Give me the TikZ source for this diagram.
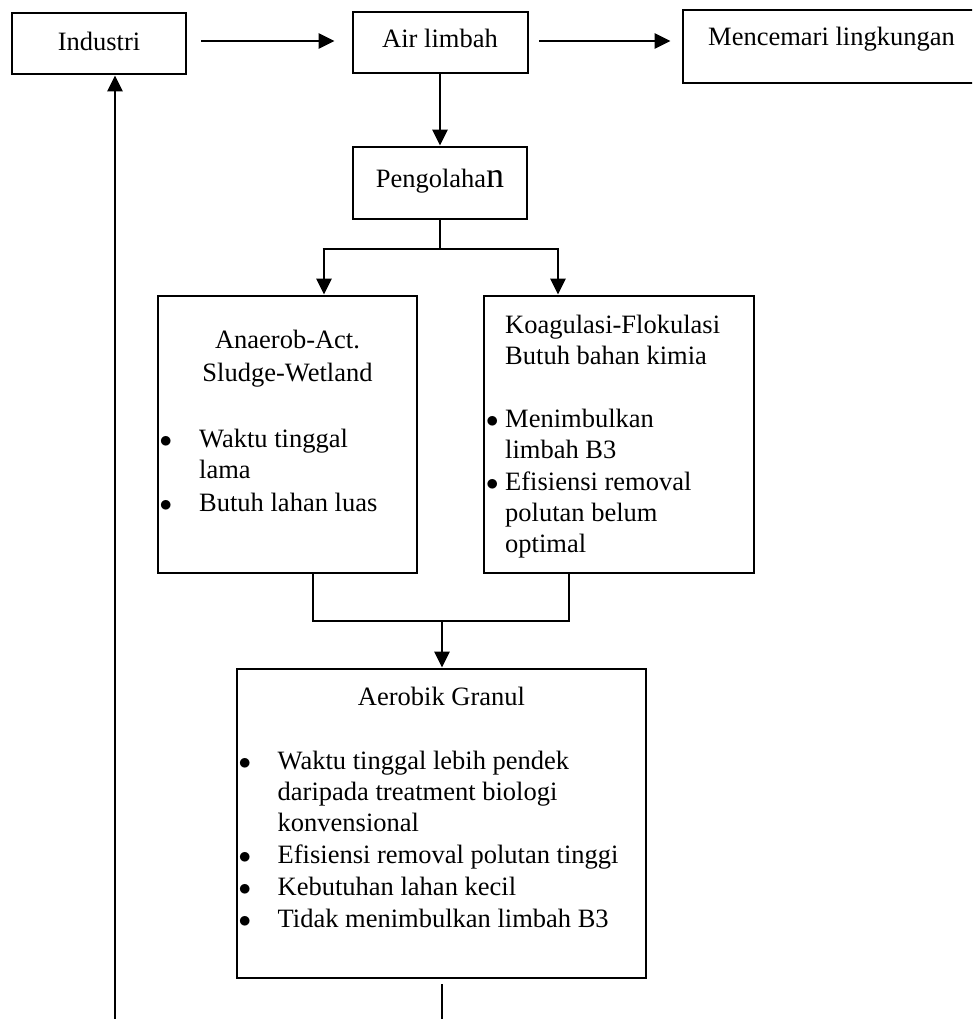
\documentclass[tikz,border=0pt]{standalone}
\usepackage{fontspec}
\setmainfont{Liberation Serif}
\usetikzlibrary{arrows.meta}
\tikzset{
  box/.style={draw, line width=2.8pt, inner sep=0pt},
  txt/.style={font=\fontsize{26.5}{31}\selectfont, inner sep=0pt},
  thk/.style={line width=2.8pt},
  thn/.style={line width=1.2pt},
  arr/.style={line width=2.8pt, -{Triangle[length=16pt,width=15pt]}},
}
\newcommand{\bul}[1]{\makebox[#1][l]{$\bullet$}}
\begin{document}
\begin{tikzpicture}[x=1pt,y=-1pt]
\useasboundingbox (0,0) rectangle (972,1019);
\clip (0,0) rectangle (972,1019);
% boxes
\node[box, minimum width=174pt, minimum height=61pt] (ind) at (99,43.5) {};
\node[box, minimum width=175pt, minimum height=61pt] (air) at (440.5,42.5) {};
\node[box, minimum width=317pt, minimum height=73pt] (men) at (841.5,46.5) {};
\node[box, minimum width=174pt, minimum height=72pt] (peng) at (440,183) {};
\node[box, minimum width=259pt, minimum height=277pt] (anaer) at (287.5,434.5) {};
\node[box, minimum width=270pt, minimum height=277pt] (koag) at (619,434.5) {};
\node[box, minimum width=409pt, minimum height=309pt] (aero) at (441.5,823.5) {};
% texts
\node[txt, anchor=base] (tind) at (99,51) {Industri};
\node[txt, anchor=base] (tair) at (440,48) {Air limbah};
\node[txt, anchor=base west] (tmen) at (708,46) {Mencemari lingkungan};
\node[txt, anchor=base] (tpeng) at (440,188) {Pengolaha{\fontsize{36}{36}\selectfont n}};
\node[txt, anchor=base] (tanaer) at (287.5,348) {\begin{tabular}[t]{@{}c@{}}Anaerob-Act.\\[2pt]Sludge-Wetland\end{tabular}};
\node[txt, anchor=base west] (lanaer) at (159.5,447) {\begin{tabular}[t]{@{}l@{}}
\bul{39.5pt}Waktu tinggal\\
\hspace*{39.5pt}lama\\[2pt]
\bul{39.5pt}Butuh lahan luas
\end{tabular}};
\node[txt, anchor=base west] (tkoag) at (505,333) {\begin{tabular}[t]{@{}l@{}}Koagulasi-Flokulasi\\Butuh bahan kimia\end{tabular}};
\node[txt, anchor=base west] (lkoag) at (486,427) {\begin{tabular}[t]{@{}l@{}}
\bul{19pt}Menimbulkan\\
\hspace*{19pt}limbah B3\\[1pt]
\bul{19pt}Efisiensi removal\\
\hspace*{19pt}polutan belum\\
\hspace*{19pt}optimal
\end{tabular}};
\node[txt, anchor=base] (taero) at (441.5,705) {Aerobik Granul};
\node[txt, anchor=base west] (laero) at (238.5,769) {\begin{tabular}[t]{@{}l@{}}
\bul{39pt}Waktu tinggal lebih pendek\\
\hspace*{39pt}daripada treatment biologi\\
\hspace*{39pt}konvensional\\[1.5pt]
\bul{39pt}Efisiensi removal polutan tinggi\\[1pt]
\bul{39pt}Kebutuhan lahan kecil\\[1pt]
\bul{39pt}Tidak menimbulkan limbah B3
\end{tabular}};
% coordinates
\coordinate (split) at (440,249);
\coordinate (sl) at (324,249);
\coordinate (sr) at (558,249);
\coordinate (jl) at (313,621);
\coordinate (jr) at (569,621);
\coordinate (jm) at (442,621);
\coordinate (bot) at (442,1025);
\coordinate (lb) at (115,1025);
% connectors
\draw[arr] ([xshift=14pt,yshift=2.5pt]ind.east) -- ([xshift=-17pt,yshift=1.5pt]air.west);
\draw[arr] ([xshift=10pt,yshift=1.5pt]air.east) -- ([xshift=-11pt,yshift=1.5pt]air.east -| men.west);
\draw[arr] (peng.north |- air.south) -- (peng.north);
\draw[thn] (peng.south) -- (split);
\draw[thk] ([xshift=-1.4pt]sl) -- ([xshift=1.4pt]sr);
\draw[arr] (sl) -- (sl |- anaer.north);
\draw[arr] (sr) -- (sr |- koag.north);
\draw[thn] (jl |- anaer.south) -- (jl) -- (jr) -- (jr |- koag.south);
\draw[arr] (jm) -- (jm |- aero.north);
\draw[thn] ([yshift=-5pt]bot |- aero.south) -- (bot);
\draw[arr] (lb) -- (lb |- ind.south);
\end{tikzpicture}
\end{document}
